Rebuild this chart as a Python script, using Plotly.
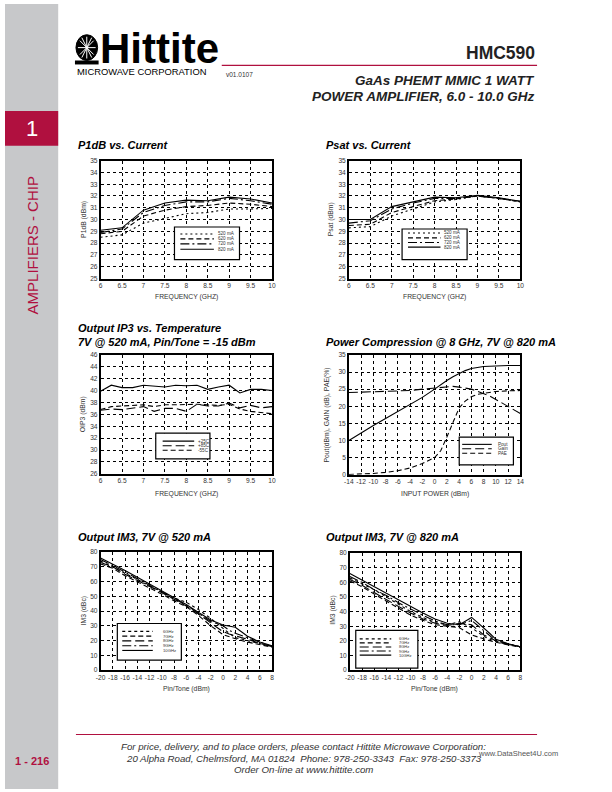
import plotly.graph_objects as go

W, H = 612, 792
RED = "#b0103f"
SIDE = "#c7c8ca"
FONT = "Liberation Sans, Arial, sans-serif"
NARROW = "Liberation Sans Narrow, Liberation Sans, Arial, sans-serif"

# ---------------- data ----------------
freq_half = [6, 6.5, 7, 7.5, 8, 8.5, 9, 9.5, 10]
p1db_520 = [28.5, 28.7, 29.7, 30.1, 30.5, 30.6, 30.9, 30.9, 30.95]
p1db_620 = [28.8, 29.0, 30.3, 30.8, 31.1, 31.2, 31.4, 31.3, 31.1]
p1db_720 = [28.9, 29.2, 30.6, 31.2, 31.5, 31.5, 31.8, 31.6, 31.3]
p1db_820 = [29.1, 29.3, 30.8, 31.4, 31.65, 31.6, 31.9, 31.75, 31.4]

psat_520 = [29.3, 29.4, 30.3, 30.9, 31.5, 31.7, 32.0, 31.8, 31.5]
psat_620 = [29.5, 29.6, 30.6, 31.1, 31.6, 31.75, 32.0, 31.8, 31.5]
psat_720 = [29.7, 29.9, 30.9, 31.4, 31.8, 31.8, 32.0, 31.8, 31.55]
psat_820 = [30.0, 30.0, 31.1, 31.5, 31.9, 31.85, 32.05, 31.85, 31.55]

freq_q = [6, 6.25, 6.5, 6.75, 7, 7.25, 7.5, 7.75, 8, 8.25, 8.5, 8.75, 9, 9.25, 9.5, 9.75, 10]
oip3_p25 = [39.9, 40.9, 40.5, 40.5, 40.9, 40.7, 40.6, 40.9, 40.8, 40.9, 40.2, 40.6, 40.9, 39.6, 40.2, 40.2, 40.0]
oip3_p85 = [36.7, 36.9, 36.8, 37.0, 37.3, 36.5, 37.0, 37.0, 36.5, 37.7, 37.4, 37.4, 37.9, 37.1, 37.5, 37.1, 37.3]
oip3_m55 = [36.8, 37.3, 37.4, 37.5, 37.6, 37.3, 37.6, 37.6, 37.7, 37.7, 37.6, 37.5, 37.7, 36.9, 36.5, 36.3, 36.1]

pin_comp = [-14, -12, -10, -8, -6, -4, -2, 0, 1, 2, 3, 4, 5, 6, 7, 8, 9, 10, 12, 14]
pout = [10.0, 12.3, 14.4, 16.4, 18.4, 20.4, 22.6, 25.0, 26.3, 27.5, 28.6, 29.6, 30.4, 31.0, 31.4, 31.6, 31.7, 31.8, 31.9, 31.9]
gain = [24.0, 24.1, 24.2, 24.3, 24.5, 24.6, 25.0, 25.3, 25.5, 25.7, 25.8, 25.6, 25.3, 25.0, 24.4, 23.8, 23.0, 22.0, 20.0, 17.9]
pae = [0.1, 0.2, 0.4, 0.7, 1.2, 2.0, 3.3, 5.0, 7.0, 11.0, 15.5, 19.5, 21.5, 22.8, 23.5, 23.8, 24.0, 24.3, 24.5, 24.6]

pin_im3 = [-20, -18, -16, -14, -12, -10, -8, -6, -4, -2, 0, 1, 2, 3, 4, 6, 8]
im3_520_6 = [74, 70, 66, 61.5, 57, 53, 49, 46, 41, 35, 28, 25, 22, 21, 20, 18, 16]
im3_520_7 = [72, 69, 64, 60, 56, 51.5, 47, 43, 37, 30, 24, 22.5, 21, 20, 19, 17, 15.5]
im3_520_8 = [73, 70, 65, 61, 57, 52.5, 48, 43.5, 38, 32, 26, 24.5, 23, 22, 21, 18, 16]
im3_520_9 = [75, 71, 66.5, 62, 57.5, 53, 48.5, 44, 38.5, 33, 30, 27, 25, 23.5, 22, 19, 16]
im3_520_10 = [76, 72, 67.5, 63, 58.5, 54, 49.5, 44.5, 39, 34, 30.5, 30, 29, 26, 23, 19, 16.5]

im3_820_6 = [63, 59, 55, 50, 45, 40, 36, 32.5, 31, 33, 29, 26, 23, 21, 19.5, 17.5, 16]
im3_820_7 = [61, 57, 52, 47, 42, 37.5, 34, 31, 30, 29, 24, 22.5, 21, 20, 19, 17, 15.5]
im3_820_8 = [62, 58, 53, 48, 43.5, 39, 35, 32, 30.5, 32, 31, 27.5, 24, 22, 20, 17.5, 16]
im3_820_9 = [64, 60, 55, 51, 46, 41.5, 37.5, 33.5, 31, 31, 34, 30.5, 27, 23.5, 20, 18, 16]
im3_820_10 = [66, 61.5, 57, 52, 47.5, 43, 39, 35, 32, 31, 36, 32.5, 29, 25, 21, 18, 16]

cur_labels = ["520 mA", "620 mA", "720 mA", "820 mA"]
temp_labels = ["+25C", "+85C", "-55C"]
comp_labels = ["Pout", "Gain", "PAE"]
im3_labels = ["6GHz", "7GHz", "8GHz", "9GHz", "10GHz"]

# tick labels for the power axes (plain hyphen minus, as printed)
comp_ticks = [-14, -12, -10, -8, -6, -4, -2, 0, 2, 4, 6, 8, 10, 12, 14]
comp_ticktext = ["-14", "-12", "-10", "-8", "-6", "-4", "-2", "0", "2", "4", "6", "8", "10", "12", "14"]
im3_ticks = [-20, -18, -16, -14, -12, -10, -8, -6, -4, -2, 0, 2, 4, 6, 8]
im3_ticktext = ["-20", "-18", "-16", "-14", "-12", "-10", "-8", "-6", "-4", "-2", "0", "2", "4", "6", "8"]

# ---------------- styles ----------------
DOT = "2px,3px"
DASH = "5px,3px"
LDASH = "9px,4px"
LDASHDOT = "9px,3px,2px,3px"
cur_dash = [DOT, DASH, LDASHDOT, "solid"]
temp_dash = ["solid", LDASH, DASH]
comp_dash = ["solid", LDASH, DASH]
im3_dash = ["3px,3px", DASH, LDASH, LDASHDOT, "solid"]


def px(x):
    return x / W


def py(y):
    return 1 - y / H


fig = go.Figure()

# subplot pixel boxes: (left, right, top, bottom)
boxes = {
    1: (97, 271, 158, 277),
    2: (349, 523, 158, 277),
    3: (97, 271, 354, 474),
    4: (349, 523, 354, 475),
    5: (97, 271, 553, 672),
    6: (350, 523, 554, 672),
}
ranges = {
    1: ([6, 10], 0.5, [25, 35], 1),
    2: ([6, 10], 0.5, [25, 35], 1),
    3: ([6, 10], 0.5, [26, 46], 2),
    4: ([-14, 14], 2, [0, 35], 5),
    5: ([-20, 8], 2, [0, 80], 10),
    6: ([-20, 8], 2, [0, 80], 10),
}
custom_x = {4: (comp_ticks, comp_ticktext), 5: (im3_ticks, im3_ticktext),
            6: (im3_ticks, im3_ticktext)}


def add_series(k, xs, ys, dash):
    sfx = "" if k == 1 else str(k)
    fig.add_trace(go.Scatter(x=xs, y=ys, mode="lines",
                             line=dict(color="black", width=1.1, dash=dash),
                             xaxis="x" + sfx, yaxis="y" + sfx,
                             showlegend=False, hoverinfo="skip"))


for ys, d in zip([p1db_520, p1db_620, p1db_720, p1db_820], cur_dash):
    add_series(1, freq_half, ys, d)
for ys, d in zip([psat_520, psat_620, psat_720, psat_820], cur_dash):
    add_series(2, freq_half, ys, d)
for ys, d in zip([oip3_p25, oip3_p85, oip3_m55], temp_dash):
    add_series(3, freq_q, ys, d)
for ys, d in zip([pout, gain, pae], comp_dash):
    add_series(4, pin_comp, ys, d)
for ys, d in zip([im3_520_6, im3_520_7, im3_520_8, im3_520_9, im3_520_10], im3_dash):
    add_series(5, pin_im3, ys, d)
for ys, d in zip([im3_820_6, im3_820_7, im3_820_8, im3_820_9, im3_820_10], im3_dash):
    add_series(6, pin_im3, ys, d)

layout = dict(width=W, height=H, margin=dict(l=0, r=0, t=0, b=0),
              paper_bgcolor="white", plot_bgcolor="white", showlegend=False)
tickfont = dict(family=NARROW, size=6.6, color="#333")
for k, (l, r, t, b) in boxes.items():
    sfx = "" if k == 1 else str(k)
    xr, dx, yr, dy = ranges[k]
    common = dict(showline=True, linecolor="black", linewidth=1.5, mirror=True,
                  showgrid=True, gridcolor="black", gridwidth=1, griddash="dot",
                  zeroline=False, ticks="", tickfont=tickfont, tickangle=0,
                  fixedrange=True)
    xa = dict(domain=[px(l), px(r)], range=xr, anchor="y" + sfx, **common)
    if k in custom_x:
        tv, tt = custom_x[k]
        xa.update(tickmode="array", tickvals=tv, ticktext=tt)
    else:
        xa.update(dtick=dx, tick0=xr[0])
    layout["xaxis" + sfx] = xa
    layout["yaxis" + sfx] = dict(domain=[py(b), py(t)], range=yr, dtick=dy, tick0=yr[0],
                                 anchor="x" + sfx, **common)
fig.update_layout(**layout)

shapes = []
ann = []


def text(x, y, s, size, color="black", family=FONT, xanchor="center", angle=0, bold=False,
         italic=False, height=None):
    if bold:
        s = "<b>" + s + "</b>"
    if italic:
        s = "<i>" + s + "</i>"
    a = dict(x=px(x), y=py(y), xref="paper", yref="paper", text=s, showarrow=False,
             xanchor=xanchor, yanchor="middle", textangle=angle,
             font=dict(size=size, color=color, family=family))
    if height:
        a["height"] = height
    ann.append(a)


def rect(x0, y0, x1, y1, fill=None, line=None, lw=1):
    shapes.append(dict(type="rect", xref="paper", yref="paper", x0=px(x0), x1=px(x1),
                       y0=py(y0), y1=py(y1), fillcolor=fill or "rgba(0,0,0,0)",
                       line=dict(color=line or "rgba(0,0,0,0)", width=lw if line else 0),
                       layer="above"))


def hline(x0, x1, y, color="black", width=1, dash="solid"):
    shapes.append(dict(type="line", xref="paper", yref="paper", x0=px(x0), x1=px(x1),
                       y0=py(y), y1=py(y), line=dict(color=color, width=width, dash=dash),
                       layer="above"))


# ---------------- page decoration ----------------
shapes.append(dict(type="rect", xref="paper", yref="paper", x0=0, x1=px(54), y0=0, y1=1,
                   fillcolor=SIDE, line=dict(width=0), layer="below"))
shapes.append(dict(type="rect", xref="paper", yref="paper", x0=0, x1=px(54), y0=py(143),
                   y1=py(108), fillcolor=RED, line=dict(width=0), layer="below"))
text(27, 126, "1", 22, color="white")
text(28, 244, "AMPLIFIERS - CHIP", 15, color=RED, angle=-90)
text(27, 764, "1 - 216", 11, color=RED, bold=True)

# logo
shapes.append(dict(type="circle", xref="paper", yref="paper", x0=px(72), x1=px(94),
                   y0=py(57), y1=py(31), fillcolor="black", line=dict(color="black", width=1)))
for (a, b, c, d) in [(76, 37, 90, 51), (90, 37, 76, 51), (83, 33, 83, 55), (74, 44, 92, 44),
                     (78, 34, 88, 54), (88, 34, 78, 54)]:
    shapes.append(dict(type="line", xref="paper", yref="paper", x0=px(a), x1=px(c),
                       y0=py(b), y1=py(d), line=dict(color="white", width=1)))
rect(71, 57, 95, 61, fill="black")
text(94, 44, "Hittite", 42, family=NARROW, xanchor="left", bold=True, height=36)
text(71, 68.5, "MICROWAVE CORPORATION", 9.4, family=NARROW, xanchor="left")
text(222, 71, "v01.0107", 6.5, color="#333", family=NARROW, xanchor="left")

text(540, 49, "HMC590", 17.5, color="#222", xanchor="right", bold=True)
hline(220, 540, 62, color=RED, width=1.2)
text(540, 77, "GaAs PHEMT MMIC 1 WATT", 13.5, color="#222", xanchor="right", bold=True,
     italic=True)
text(540, 93, "POWER AMPLIFIER, 6.0 - 10.0 GHz", 13.5, color="#222", xanchor="right",
     bold=True, italic=True)

# footer
hline(72, 540, 737, color=RED, width=1.2)
text(303, 749, "For price, delivery, and to place orders, please contact Hittite Microwave Corporation:",
     9.7, color="#333", family=NARROW, italic=True)
text(303, 761, "20 Alpha Road, Chelmsford, MA 01824  Phone: 978-250-3343  Fax: 978-250-3373",
     9.7, color="#333", family=NARROW, italic=True)
text(303, 772, "Order On-line at www.hittite.com", 9.7, color="#333", family=NARROW, italic=True)
text(478, 756, "www.DataSheet4U.com", 7.5, color="#555", family=FONT, xanchor="left")

# ---------------- chart titles ----------------
text(72, 142, "P1dB vs. Current", 11, xanchor="left", bold=True, italic=True)
text(324, 142, "Psat vs. Current", 11, xanchor="left", bold=True, italic=True)
text(72, 327, "Output IP3 vs. Temperature", 11, xanchor="left", bold=True, italic=True)
text(72, 341, "7V @ 520 mA, Pin/Tone = -15 dBm", 11, xanchor="left", bold=True, italic=True)
text(324, 341, "Power Compression @ 8 GHz, 7V @ 820 mA", 11, xanchor="left", bold=True,
     italic=True)
text(72, 538, "Output IM3, 7V @ 520 mA", 11, xanchor="left", bold=True, italic=True)
text(324, 538, "Output IM3, 7V @ 820 mA", 11, xanchor="left", bold=True, italic=True)

# axis titles
AT = dict(size=6.8, color="#333", family=NARROW)
text(184, 296, "FREQUENCY (GHZ)", **AT)
text(436, 296, "FREQUENCY (GHZ)", **AT)
text(184, 494, "FREQUENCY (GHZ)", **AT)
text(436, 494, "INPUT POWER (dBm)", **AT)
text(184, 691, "Pin/Tone (dBm)", **AT)
text(436, 691, "Pin/Tone (dBm)", **AT)
text(80, 217, "P1dB (dBm)", angle=-90, **AT)
text(331, 217, "Psat (dBm)", angle=-90, **AT)
text(80, 414, "OIP3 (dBm)", angle=-90, **AT)
text(327, 415, "Pout(dBm), GAIN (dB), PAE(%)", angle=-90, **AT)
text(80, 612, "IM3 (dBc)", angle=-90, **AT)
text(332, 612, "IM3 (dBc)", angle=-90, **AT)


# ---------------- legends ----------------
def legend(box, ys, x0, x1, xt, labels, dashes, fs=4.6):
    rect(*box, fill="white", line="black", lw=1.2)
    for y, lab, d in zip(ys, labels, dashes):
        hline(x0, x1, y, width=1.1, dash=d)
        text(xt, y, lab, fs, color="#333", family=NARROW, xanchor="left")


legend((172, 225, 238, 258), [232, 237, 242, 247.5], 178, 212, 214, cur_labels, cur_dash)
legend((403, 227, 469, 258), [231, 236, 240.7, 245.3], 409, 442, 444, cur_labels, cur_dash)
legend((153, 433, 208, 459), [441, 445.7, 450.3], 160, 192, 194, temp_labels, temp_dash)
legend((461, 437, 516, 465), [444.3, 448.7, 453.3], 464, 494, 498, comp_labels, comp_dash)
legend((114, 625, 179, 662), [633, 637.8, 642.6, 647.4, 652.2], 119, 150, 158, im3_labels,
       im3_dash, fs=4.2)
legend((356, 632, 419, 670), [640.5, 644.6, 648.7, 652.8, 656.9], 360, 392, 398, im3_labels,
       im3_dash, fs=4.0)

fig.update_layout(shapes=shapes, annotations=ann)
fig.write_html("out.html")
